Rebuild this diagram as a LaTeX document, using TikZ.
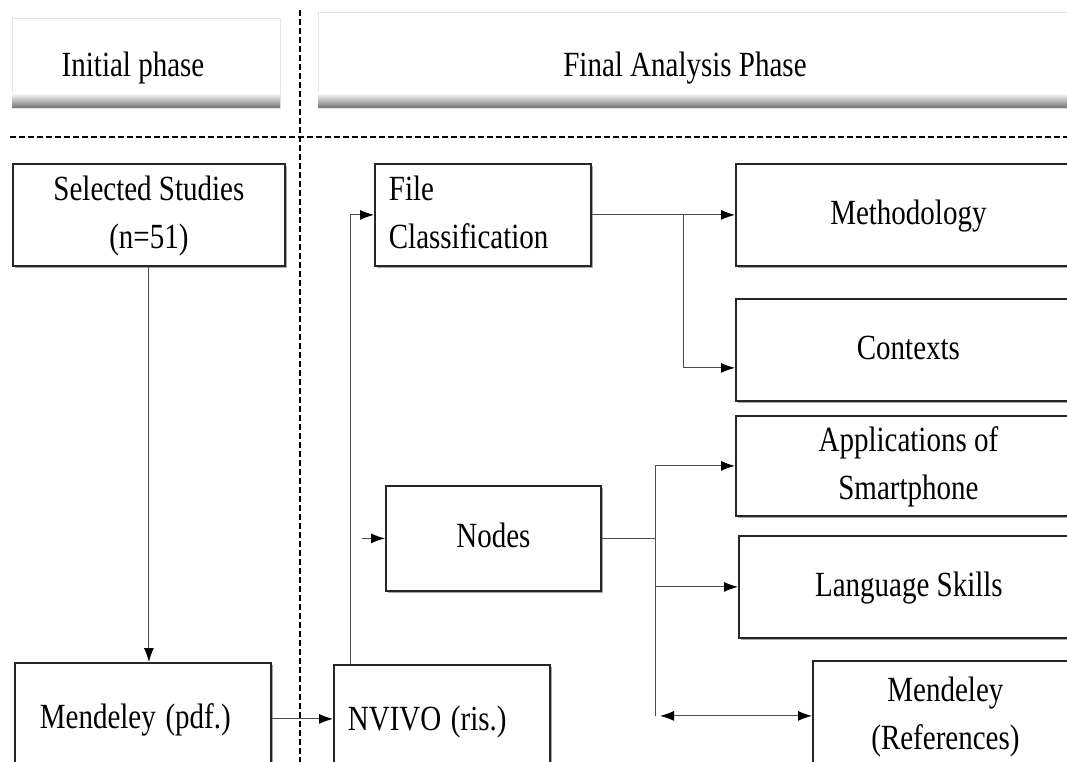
\documentclass[tikz,border=0pt]{standalone}
\usepackage{fontspec}
\setmainfont{Liberation Serif}
\usetikzlibrary{arrows.meta,shadows,calc}
\newcommand{\vs}[2][c]{\scalebox{1}[1.22]{\begin{tabular}{@{}#1@{}}#2\end{tabular}}}
\begin{document}
\begin{tikzpicture}[x=1pt,y=-1pt, font=\fontsize{29}{39}\selectfont,
  box/.style={draw=black!85, line width=1.8pt, fill=white,
    drop shadow={shadow xshift=2pt,shadow yshift=-2pt,opacity=0.35,fill=black},
    anchor=north west, inner sep=0pt},
  conn/.style={draw=black!70, line width=1pt},
  tip/.tip={Latex[length=14pt,width=10pt,fill=black,color=black]},
  arr/.style={conn, -tip},
  dsh/.style={line width=2.4pt, dash pattern=on 6pt off 3pt},
  hdr/.style={fill=white, draw=black!10, line width=0.8pt}]
\useasboundingbox (0,0) rectangle (1067,762);
\clip (0,0) rectangle (1067,762);
% headers
\path[hdr] (12,18) rectangle (280,108);
\shade[top color=white, bottom color=black!55] (12,93) rectangle (280,108);
\path[hdr] (318,12) rectangle (1080,108);
\shade[top color=white, bottom color=black!55] (318,93) rectangle (1080,108);
\node (ip) at (133,67) {\vs{Initial phase}};
\node (fap) at (685,67) {\vs{Final Analysis Phase}};
% separators
\draw[dsh] (300,10) -- (300,762);
\draw[dsh] (10,137) -- (1067,137);
% boxes
\node[box, minimum width=272, minimum height=102] (ss) at (12,163) {\vs{Selected Studies\\(n=51)}};
\node[box, minimum height=112, text width=206, align=left, inner xsep=25] (mp) at (14,662) {\vs[l]{Mendeley (pdf.)}};
\node[box, minimum height=112, text width=188, align=left, inner xsep=14] (nv) at (333,664) {\vs[l]{NVIVO (ris.)}};
\node[box, minimum height=102, text width=188, align=left, inner xsep=14] (fc) at (374,163) {\vs[l]{File\\Classification}};
\node[box, minimum width=345, minimum height=102] (meth) at (735,163) {\vs{Methodology}};
\node[box, minimum width=345, minimum height=102] (ctx) at (735,298) {\vs{Contexts}};
\node[box, minimum width=345, minimum height=100] (app) at (735,415) {\vs{Applications of\\Smartphone}};
\node[box, minimum width=215, minimum height=105] (nd) at (385,485) {\vs{Nodes}};
\node[box, minimum width=340, minimum height=102] (ls) at (738,535) {\vs{Language Skills}};
\node[box, minimum width=265, minimum height=110] (mr) at (812,660) {\vs{Mendeley\\(References)}};
% connectors
\draw[arr] (ss.south) -- (ss.south |- mp.north);
\draw[arr] (mp.east) -- (mp.east -| nv.west);
\coordinate (nvup) at ($(nv.north west)+(17,0)$);
\draw[arr] (nvup) |- (fc.west);
\draw[arr] (fc.east) -- (meth.west);
\coordinate (b1x) at (683,0);
\coordinate (b1) at (fc.east -| b1x);
\coordinate (ctxin) at ($(ctx.west)+(0,18)$);
\draw[arr] (b1) |- (ctxin);
\coordinate (ndin) at ($(nd.west)+(-23,0)$);
\draw[arr] (ndin) -- (nd.west);
\coordinate (b2x) at (655,0);
\draw[conn] (nd.east) -- (nd.east -| b2x);
\draw[conn] (app.west -| b2x) -- (mr.west -| b2x);
\draw[arr] (app.west -| b2x) -- (app.west);
\draw[arr] (ls.west -| b2x) -- (ls.west);
\coordinate (mrin) at ($(mr.west -| b2x)+(5,0)$);
\draw[conn, tip-tip] (mrin) -- (mr.west);
\end{tikzpicture}
\end{document}
